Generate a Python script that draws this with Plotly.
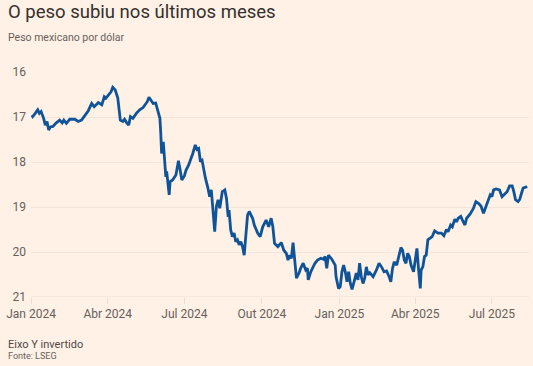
import plotly.graph_objects as go

dates = [
    "2024-01-02", "2024-01-03", "2024-01-06", "2024-01-09", "2024-01-11", "2024-01-13", "2024-01-16", "2024-01-18",
    "2024-01-20", "2024-01-22", "2024-01-24", "2024-01-27", "2024-01-31", "2024-02-04", "2024-02-07", "2024-02-09",
    "2024-02-12", "2024-02-16", "2024-02-22", "2024-02-26", "2024-03-01", "2024-03-05", "2024-03-09", "2024-03-13",
    "2024-03-16", "2024-03-21", "2024-03-25", "2024-03-28", "2024-03-30", "2024-04-02", "2024-04-05", "2024-04-07",
    "2024-04-10", "2024-04-13", "2024-04-15", "2024-04-16", "2024-04-19", "2024-04-21", "2024-04-24", "2024-04-26",
    "2024-04-28", "2024-05-01", "2024-05-05", "2024-05-09", "2024-05-13", "2024-05-16", "2024-05-18", "2024-05-20",
    "2024-05-23", "2024-05-25", "2024-05-28", "2024-05-31", "2024-06-02", "2024-06-03", "2024-06-04", "2024-06-06",
    "2024-06-07", "2024-06-09", "2024-06-10", "2024-06-13", "2024-06-14", "2024-06-17", "2024-06-21", "2024-06-23",
    "2024-06-24", "2024-06-26", "2024-06-28", "2024-07-01", "2024-07-03", "2024-07-06", "2024-07-09", "2024-07-11",
    "2024-07-14", "2024-07-16", "2024-07-18", "2024-07-20", "2024-07-22", "2024-07-24", "2024-07-26", "2024-07-29",
    "2024-07-31", "2024-08-02", "2024-08-04", "2024-08-06", "2024-08-08", "2024-08-10", "2024-08-12", "2024-08-15",
    "2024-08-18", "2024-08-20", "2024-08-22", "2024-08-23", "2024-08-25", "2024-08-27", "2024-08-29", "2024-08-31",
    "2024-09-02", "2024-09-04", "2024-09-06", "2024-09-08", "2024-09-10", "2024-09-12", "2024-09-14", "2024-09-16",
    "2024-09-20", "2024-09-22", "2024-09-26", "2024-09-29", "2024-10-02", "2024-10-06", "2024-10-09", "2024-10-12",
    "2024-10-14", "2024-10-16", "2024-10-20", "2024-10-24", "2024-10-27", "2024-10-30", "2024-11-01", "2024-11-03",
    "2024-11-05", "2024-11-07", "2024-11-09", "2024-11-11", "2024-11-14", "2024-11-16", "2024-11-19", "2024-11-22",
    "2024-11-24", "2024-11-25", "2024-11-28", "2024-12-03", "2024-12-06", "2024-12-10", "2024-12-13", "2024-12-15",
    "2024-12-17", "2024-12-19", "2024-12-23", "2024-12-27", "2024-12-28", "2024-12-31", "2025-01-02", "2025-01-04",
    "2025-01-06", "2025-01-08", "2025-01-10", "2025-01-12", "2025-01-14", "2025-01-16", "2025-01-19", "2025-01-21",
    "2025-01-23", "2025-01-25", "2025-01-27", "2025-01-29", "2025-01-31", "2025-02-02", "2025-02-04", "2025-02-06",
    "2025-02-10", "2025-02-14", "2025-02-17", "2025-02-20", "2025-02-23", "2025-02-26", "2025-03-01", "2025-03-03",
    "2025-03-05", "2025-03-07", "2025-03-10", "2025-03-13", "2025-03-15", "2025-03-17", "2025-03-19", "2025-03-21",
    "2025-03-23", "2025-03-25", "2025-03-27", "2025-03-30", "2025-04-01", "2025-04-03", "2025-04-05", "2025-04-07",
    "2025-04-08", "2025-04-10", "2025-04-12", "2025-04-14", "2025-04-16", "2025-04-18", "2025-04-21", "2025-04-24",
    "2025-04-28", "2025-05-02", "2025-05-05", "2025-05-08", "2025-05-10", "2025-05-13", "2025-05-15", "2025-05-18",
    "2025-05-20", "2025-05-22", "2025-05-25", "2025-05-27", "2025-05-30", "2025-06-01", "2025-06-05", "2025-06-09",
    "2025-06-12", "2025-06-15", "2025-06-18", "2025-06-21", "2025-06-24", "2025-06-27", "2025-06-29", "2025-07-01",
    "2025-07-03", "2025-07-06", "2025-07-10", "2025-07-13", "2025-07-16", "2025-07-19", "2025-07-22", "2025-07-25",
    "2025-07-27", "2025-07-29", "2025-08-01", "2025-08-03", "2025-08-05", "2025-08-07", "2025-08-10", "2025-08-12",
]

peso_per_dollar = [
    16.96, 16.99, 16.92, 16.84, 16.92, 16.88, 17.03, 17.18,
    17.10, 17.29, 17.22, 17.21, 17.13, 17.07, 17.13, 17.07,
    17.14, 17.05, 17.05, 17.10, 17.07, 16.96, 16.86, 16.70,
    16.77, 16.68, 16.73, 16.55, 16.58, 16.51, 16.44, 16.34,
    16.40, 16.58, 16.84, 17.07, 17.10, 17.05, 17.14, 17.18,
    16.99, 17.03, 16.92, 16.84, 16.79, 16.71, 16.66, 16.56,
    16.64, 16.70, 16.69, 16.92, 17.03, 17.36, 17.81, 17.55,
    17.84, 18.33, 18.21, 18.73, 18.44, 18.40, 18.29, 18.07,
    17.97, 18.18, 18.40, 18.31, 18.18, 18.07, 17.92, 17.81,
    17.62, 17.72, 17.70, 17.99, 17.96, 18.21, 18.36, 18.58,
    18.77, 18.62, 19.07, 19.55, 18.99, 18.84, 19.03, 18.66,
    18.62, 18.81, 19.22, 19.07, 19.51, 19.66, 19.58, 19.77,
    19.73, 19.84, 19.77, 19.88, 20.07, 19.66, 19.18, 19.10,
    19.25, 19.40, 19.58, 19.66, 19.44, 19.29, 19.44, 19.25,
    19.44, 19.81, 19.88, 19.79, 19.96, 20.03, 20.18, 20.07,
    20.14, 19.79, 20.25, 20.58, 20.47, 20.36, 20.25, 20.40,
    20.36, 20.62, 20.44, 20.25, 20.18, 20.14, 20.16, 20.10,
    20.36, 20.07, 20.16, 20.29, 20.55, 20.81, 20.77, 20.44,
    20.29, 20.44, 20.66, 20.44, 20.70, 20.83, 20.62, 20.47,
    20.62, 20.25, 20.55, 20.70, 20.58, 20.33, 20.51, 20.46,
    20.55, 20.40, 20.25, 20.33, 20.44, 20.42, 20.55, 20.66,
    20.37, 20.22, 20.29, 20.03, 19.90, 19.96, 20.18, 20.25,
    20.03, 20.10, 20.29, 20.44, 20.18, 19.92, 20.40, 20.81,
    20.40, 20.33, 20.10, 20.07, 19.73, 19.70, 19.66, 19.53,
    19.58, 19.58, 19.64, 19.50, 19.55, 19.40, 19.44, 19.27,
    19.33, 19.25, 19.21, 19.29, 19.40, 19.25, 19.16, 19.03,
    18.88, 18.92, 18.98, 19.14, 18.99, 18.84, 18.73, 18.77,
    18.62, 18.60, 18.62, 18.77, 18.71, 18.66, 18.53, 18.53,
    18.66, 18.84, 18.88, 18.83, 18.70, 18.58, 18.56, 18.55,
]

x_tick_dates = ["2024-01-01", "2024-04-01", "2024-07-01", "2024-10-01",
                "2025-01-01", "2025-04-01", "2025-07-01"]
x_tick_labels = ["Jan 2024", "Abr 2024", "Jul 2024", "Out 2024",
                 "Jan 2025", "Abr 2025", "Jul 2025"]
y_ticks = [16, 17, 18, 19, 20, 21]

BG = "#FFF1E5"
FONT = "Roboto, 'Open Sans', sans-serif"

fig = go.Figure()
fig.add_trace(go.Scatter(
    x=dates, y=peso_per_dollar, mode="lines",
    line=dict(color="#0F5499", width=2.8),
    hoverinfo="skip", showlegend=False,
))

fig.update_layout(
    width=533, height=366,
    paper_bgcolor=BG, plot_bgcolor=BG,
    margin=dict(l=31, r=4, t=72, b=69),
    font=dict(family=FONT, color="#66605C", size=12),
    xaxis=dict(
        type="date",
        range=["2024-01-01", "2025-08-14"],
        tickvals=x_tick_dates, ticktext=x_tick_labels,
        showgrid=False, zeroline=False,
        showline=False,
        ticks="outside", ticklen=6, tickcolor="#EBDDD2", tickwidth=1,
        tickfont=dict(size=12, color="#66605C"),
        fixedrange=True,
    ),
    yaxis=dict(
        range=[21, 16],
        tickvals=y_ticks,
        showgrid=True, gridcolor="#F5E4D7", gridwidth=1,
        zeroline=False, showline=False,
        ticks="", ticklabelstandoff=4,
        tickfont=dict(size=12, color="#66605C"),
        fixedrange=True,
    ),
    shapes=[dict(type="line", xref="paper", yref="y", x0=0, x1=1, y0=21, y1=21,
                 line=dict(color="#EBDDD2", width=1), layer="below")],
    annotations=[
        dict(text="O peso subiu nos últimos meses", xref="paper", yref="paper",
             x=-25/498, y=1 + (72-12)/225, xanchor="left", yanchor="middle",
             showarrow=False, font=dict(size=18.5, color="#33302E", family=FONT)),
        dict(text="Peso mexicano por dólar", xref="paper", yref="paper",
             x=-25/498, y=1 + (72-37)/225, xanchor="left", yanchor="middle",
             showarrow=False, font=dict(size=10.5, color="#66605C", family=FONT)),
        dict(text="Eixo Y invertido", xref="paper", yref="paper",
             x=-25/498, y=-(344-297)/225, xanchor="left", yanchor="middle",
             showarrow=False, font=dict(size=11, color="#4D4845", family=FONT)),
        dict(text="Fonte: LSEG", xref="paper", yref="paper",
             x=-25/498, y=-(356-297)/225, xanchor="left", yanchor="middle",
             showarrow=False, font=dict(size=9, color="#66605C", family=FONT)),
    ],
)
fig.update_xaxes(tickson="labels")
fig.write_html(
    "out.html",
    config={"displayModeBar": False, "staticPlot": True},
    post_script="document.body.style.margin='0';document.body.style.padding='0';"
                "document.body.style.overflow='hidden';",
)
